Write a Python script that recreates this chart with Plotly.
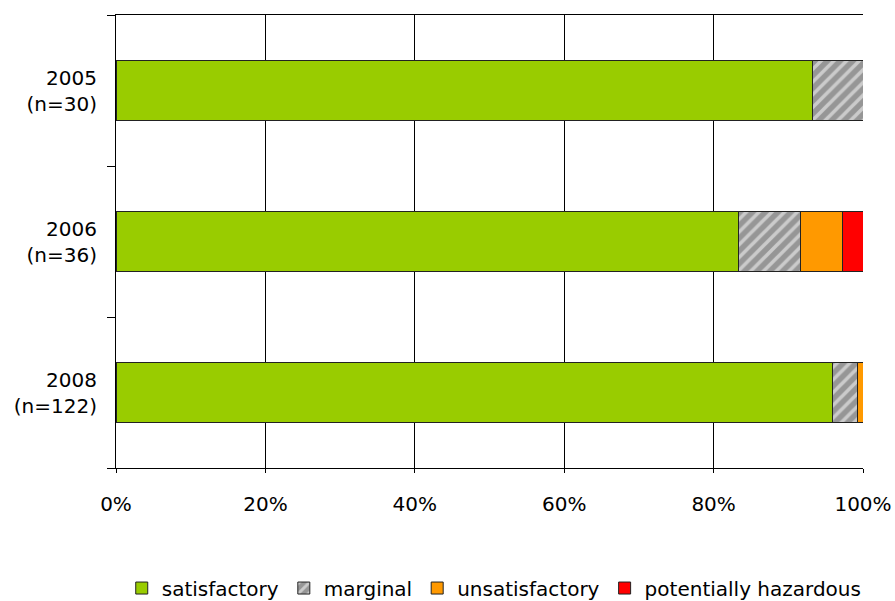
import plotly.graph_objects as go

categories = ["2005", "2006", "2008"]
category_labels = ["2005<br>(n=30)", "2006<br>(n=36)", "2008<br>(n=122)"]
satisfactory = [93.3, 83.3, 95.9]
marginal = [6.7, 8.3, 3.3]
unsatisfactory = [0.0, 5.6, 0.8]
potentially_hazardous = [0.0, 2.8, 0.0]
x_ticks = [0, 20, 40, 60, 80, 100]
x_tick_labels = ["0%", "20%", "40%", "60%", "80%", "100%"]

FONT = "DejaVu Sans"
FS = 20

fig = go.Figure()
bar_line = dict(color="#222222", width=1)
fig.add_trace(go.Bar(name="satisfactory", y=categories, x=satisfactory, orientation="h",
                     marker=dict(color="#99CC00", line=bar_line)))
fig.add_trace(go.Bar(name="marginal", y=categories, x=marginal, orientation="h",
                     marker=dict(color="#969696", line=bar_line,
                                 pattern=dict(shape="/", fgcolor="#FFFFFF", size=9, solidity=0.4))))
fig.add_trace(go.Bar(name="unsatisfactory", y=categories, x=unsatisfactory, orientation="h",
                     marker=dict(color="#FF9900", line=bar_line)))
fig.add_trace(go.Bar(name="potentially hazardous", y=categories, x=potentially_hazardous, orientation="h",
                     marker=dict(color="#FF0000", line=bar_line)))

fig.update_layout(
    width=895, height=601,
    margin=dict(l=116, r=32, t=15, b=133, autoexpand=False),
    barmode="stack", bargap=0.6,
    plot_bgcolor="#FFFFFF", paper_bgcolor="#FFFFFF",
    font=dict(family=FONT, size=FS, color="#000000"),
    showlegend=True,
    legend=dict(orientation="h", x=1.005, xanchor="right", y=-0.265, yanchor="middle",
                font=dict(family=FONT, size=FS), traceorder="normal"),
    xaxis=dict(range=[0, 100], tickvals=x_ticks, ticktext=x_tick_labels, showgrid=True,
               gridcolor="#000000", gridwidth=1, showline=True, linecolor="#000000",
               mirror=True, ticks="outside", ticklen=4, tickcolor="#000000", zeroline=False,
               ticklabelstandoff=14),
    yaxis=dict(type="category", autorange="reversed", tickmode="array",
               tickvals=categories, ticktext=category_labels, showline=True,
               linecolor="#000000", ticks="outside", ticklen=8, tickcolor="#000000",
               tickson="boundaries", showgrid=False, zeroline=False, ticklabelstandoff=14),
)

fig.write_html("out.html")
